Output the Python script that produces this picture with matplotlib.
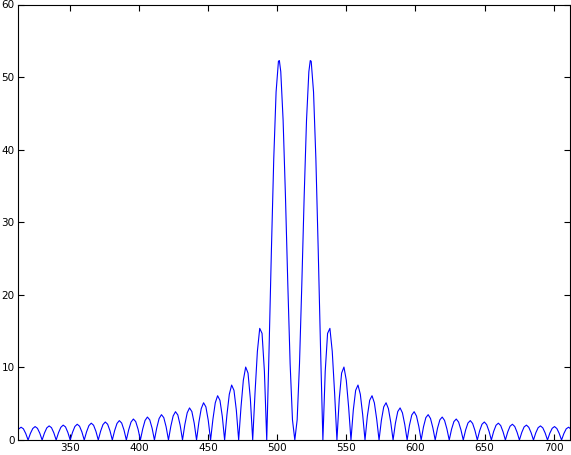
import matplotlib
matplotlib.use("Agg")
import matplotlib.pyplot as plt

# x positions and magnitudes
x_vals = [
    309.50,
    311.19, 312.89, 314.58, 316.27, 317.97, 319.66,
    321.35, 323.05, 324.74, 326.43, 328.13, 329.82,
    331.51, 333.21, 334.90, 336.59, 338.29, 339.98,
    341.67, 343.37, 345.06, 346.75, 348.45, 350.14,
    351.83, 353.53, 355.22, 356.91, 358.61, 360.30,
    361.99, 363.69, 365.38, 367.07, 368.77, 370.46,
    372.15, 373.85, 375.54, 377.23, 378.93, 380.62,
    382.31, 384.01, 385.70, 387.39, 389.09, 390.78,
    392.47, 394.17, 395.86, 397.55, 399.25, 400.94,
    402.63, 404.33, 406.02, 407.71, 409.41, 411.10,
    412.79, 414.49, 416.18, 417.87, 419.57, 421.26,
    422.95, 424.65, 426.34, 428.03, 429.73, 431.42,
    433.11, 434.81, 436.50, 438.19, 439.89, 441.58,
    443.27, 444.97, 446.66, 448.35, 450.05, 451.74,
    453.43, 455.13, 456.82, 458.51, 460.21, 461.90,
    463.59, 465.29, 466.98, 468.67, 470.37, 472.06,
    473.75, 475.45, 477.14, 478.83, 480.53, 482.22,
    483.91, 485.61, 487.30, 488.99, 490.69, 492.38,
    494.07, 495.77, 497.46, 499.15, 500.85, 501.52, 502.54,
    504.23, 505.93, 507.62, 509.31, 511.01, 512.70,
    514.39, 516.09, 517.78, 519.47, 521.17,
    522.86, 523.88, 524.55, 526.25, 527.94, 529.63, 531.33,
    533.02, 534.71, 536.41, 538.10, 539.79, 541.49,
    543.18, 544.87, 546.57, 548.26, 549.95, 551.65,
    553.34, 555.03, 556.73, 558.42, 560.11, 561.81,
    563.50, 565.19, 566.89, 568.58, 570.27, 571.97,
    573.66, 575.35, 577.05, 578.74, 580.43, 582.13,
    583.82, 585.51, 587.21, 588.90, 590.59, 592.29,
    593.98, 595.67, 597.37, 599.06, 600.75, 602.45,
    604.14, 605.83, 607.53, 609.22, 610.91, 612.61,
    614.30, 615.99, 617.69, 619.38, 621.07, 622.77,
    624.46, 626.15, 627.85, 629.54, 631.23, 632.93,
    634.62, 636.31, 638.01, 639.70, 641.39, 643.09,
    644.78, 646.47, 648.17, 649.86, 651.55, 653.25,
    654.94, 656.63, 658.33, 660.02, 661.71, 663.41,
    665.10, 666.79, 668.49, 670.18, 671.87, 673.57,
    675.26, 676.95, 678.65, 680.34, 682.03, 683.73,
    685.42, 687.11, 688.81, 690.50, 692.19, 693.89,
    695.58, 697.27, 698.97, 700.66, 702.35, 704.05,
    705.74, 707.43, 709.13, 710.82, 712.51, 714.21,
    715.90,
]

y_vals = [
    0.0,
    0.87, 1.52, 1.76, 1.54, 0.89, 0.0,
    0.91, 1.58, 1.85, 1.61, 0.94, 0.0,
    0.96, 1.67, 1.94, 1.70, 0.99, 0.0,
    1.00, 1.75, 2.05, 1.80, 1.04, 0.0,
    1.06, 1.86, 2.17, 1.90, 1.11, 0.0,
    1.13, 1.99, 2.32, 2.03, 1.19, 0.0,
    1.21, 2.12, 2.48, 2.17, 1.27, 0.0,
    1.30, 2.28, 2.67, 2.34, 1.37, 0.0,
    1.40, 2.47, 2.89, 2.54, 1.49, 0.0,
    1.53, 2.70, 3.16, 2.78, 1.63, 0.0,
    1.68, 2.96, 3.49, 3.08, 1.81, 0.0,
    1.87, 3.31, 3.90, 3.45, 2.03, 0.0,
    2.12, 3.74, 4.42, 3.92, 2.32, 0.0,
    2.44, 4.32, 5.13, 4.56, 2.71, 0.0,
    2.86, 5.12, 6.10, 5.47, 3.27, 0.0,
    3.50, 6.30, 7.57, 6.84, 4.12, 0.0,
    4.52, 8.24, 10.05, 9.22, 5.67, 0.0,
    6.51, 12.21, 15.38, 14.69, 9.47, 0.0,
    12.54, 26.23, 38.76, 47.95, 52.18, 52.28, 50.74,
    44.05, 33.56, 21.53, 10.49, 2.77, 0.0,
    2.77, 10.49, 21.53, 33.56, 44.05,
    50.74, 52.28, 52.18, 47.95, 38.76, 26.23, 12.54,
    0.0, 9.47, 14.69, 15.38, 12.21, 6.51,
    0.0, 5.67, 9.22, 10.05, 8.24, 4.52,
    0.0, 4.12, 6.84, 7.57, 6.30, 3.50,
    0.0, 3.27, 5.47, 6.10, 5.12, 2.86,
    0.0, 2.71, 4.56, 5.13, 4.32, 2.44,
    0.0, 2.32, 3.92, 4.42, 3.74, 2.12,
    0.0, 2.03, 3.45, 3.90, 3.31, 1.87,
    0.0, 1.81, 3.08, 3.49, 2.96, 1.68,
    0.0, 1.63, 2.78, 3.16, 2.70, 1.53,
    0.0, 1.49, 2.54, 2.89, 2.47, 1.40,
    0.0, 1.37, 2.34, 2.67, 2.28, 1.30,
    0.0, 1.27, 2.17, 2.48, 2.12, 1.21,
    0.0, 1.19, 2.03, 2.32, 1.99, 1.13,
    0.0, 1.11, 1.90, 2.17, 1.86, 1.06,
    0.0, 1.04, 1.80, 2.05, 1.75, 1.00,
    0.0, 0.99, 1.70, 1.94, 1.67, 0.96,
    0.0, 0.94, 1.61, 1.85, 1.58, 0.91,
    0.0, 0.89, 1.54, 1.76, 1.52, 0.87,
    0.0,
]

x_ticks = [350, 400, 450, 500, 550, 600, 650, 700]
y_ticks = [0, 10, 20, 30, 40, 50, 60]

fig = plt.figure(figsize=(5.71, 4.55), dpi=100)
ax = fig.add_axes([17.5 / 571, 15 / 455, 552 / 571, 435.5 / 455])
ax.plot(x_vals, y_vals, color=(0, 0, 1), linewidth=0.8)
ax.set_xlim(312, 711.5)
ax.set_ylim(0, 60)
ax.set_xticks(x_ticks)
ax.set_yticks(y_ticks)
ax.tick_params(direction="in", length=4, width=0.8, top=True, right=True,
               labelsize=7.5, pad=2)
for s in ax.spines.values():
    s.set_linewidth(0.8)
fig.savefig("out.png", dpi=100)
